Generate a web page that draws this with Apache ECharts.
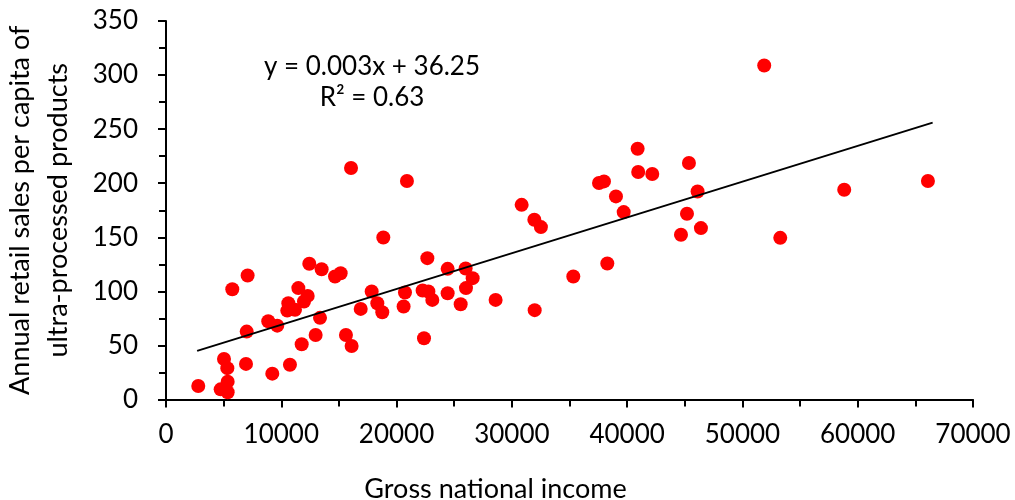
<!DOCTYPE html>
<html>
<head>
<meta charset="utf-8">
<script src="https://cdn.jsdelivr.net/npm/echarts@6/dist/echarts.min.js"></script>
<style>
  html, body { margin: 0; padding: 0; background: #fff; }
  #chart { width: 1015px; height: 500px; }
</style>
</head>
<body>
<div id="chart"></div>
<script>
// 国民总收入 (x) 与 人均超加工食品零售额 (y)
const incomeX = [
  2800, 5030, 5320, 4740, 5350, 5350, 5750, 7080, 7000, 6940,
  9220, 8870, 9650, 10750, 11770, 12980, 13360, 10610, 10520, 11190,
  11480, 11970, 12290, 12430, 13500, 14660, 15150, 15610, 16100, 16050,
  20900, 18850, 17840, 16890, 18330, 18760, 20610, 20730, 22380, 22670,
  22260, 22760, 23100, 24430, 24430, 25560, 25990, 26600, 26020, 28590,
  30850, 31950, 32520, 31980, 35330, 38280, 37560, 37990, 39030, 39700,
  40910, 40960, 42180, 45360, 46110, 45190, 44670, 46400, 51890, 58830,
  66090, 53280
]
const salesY = [
  12.5, 37.5, 29, 9.4, 16.5, 6.7, 102, 114.6, 62.8, 32.9,
  23.9, 72.4, 68.3, 32.2, 51.1, 59.7, 75.5, 89, 82.2, 82.9,
  103, 90.6, 95.8, 125.5, 120.5, 113.7, 116.8, 59.7, 49.5, 214,
  202, 149.8, 99.8, 83.8, 89, 80.7, 86, 98.9, 56.6, 130.7,
  100.8, 99.8, 92.1, 120.8, 98.3, 88.1, 121.1, 112.2, 103, 92.1,
  180, 166.2, 159.4, 82.6, 113.7, 125.7, 200.2, 201.7, 187.8, 173.3,
  231.9, 210.4, 208.5, 218.7, 192.4, 171.8, 152.3, 158.5, 308.8, 194,
  202, 149.5
]
// 趋势线两端点
const trendX = [2700, 66500]
const trendY = [45, 256]

const yTicks = { min: 0, max: 350, interval: 50 }
const xTicks = { min: 0, max: 70000, interval: 10000 }

const FONT = 'Lato'

const chart = echarts.init(document.getElementById('chart'))

const axisCommon = {
  axisLine: { show: true, lineStyle: { color: '#000', width: 2 } },
  axisTick: { show: true, inside: false, length: 8, lineStyle: { color: '#000', width: 2 } },
  minorTick: { show: true, splitNumber: 2, length: 7, lineStyle: { color: '#000', width: 2 } },
  splitLine: { show: false },
  axisLabel: { color: '#000', fontSize: 26, fontFamily: FONT, formatter: (v) => String(v) },
  nameTextStyle: { color: '#000', fontSize: 27, fontFamily: FONT }
}

chart.setOption({
  animation: false,
  backgroundColor: '#fff',
  grid: { left: 166, right: 42, top: 21, bottom: 100.5, containLabel: false, outerBoundsMode: 'none' },
  xAxis: Object.assign({}, axisCommon, {
    type: 'value',
    min: xTicks.min,
    max: xTicks.max,
    interval: xTicks.interval,
    name: 'Gross national income',
    nameLocation: 'middle',
    nameGap: 76,
    // 标题在参考图里偏左
    nameTextStyle: Object.assign({}, axisCommon.nameTextStyle, { padding: [0, 148, 0, 0] }),
    axisLabel: Object.assign({}, axisCommon.axisLabel, { margin: 22 })
  }),
  yAxis: Object.assign({}, axisCommon, {
    type: 'value',
    min: yTicks.min,
    max: yTicks.max,
    interval: yTicks.interval,
    name: 'Annual retail sales per capita of\nultra-processed products',
    nameLocation: 'middle',
    nameGap: 89,
    nameTextStyle: Object.assign({}, axisCommon.nameTextStyle, { lineHeight: 38 }),
    axisLabel: Object.assign({}, axisCommon.axisLabel, { margin: 28 })
  }),
  graphic: [
    {
      type: 'text', x: 372, y: 67,
      style: { text: 'y = 0.003x + 36.25', fontSize: 26, fontFamily: FONT, fill: '#000', align: 'center', verticalAlign: 'middle' }
    },
    {
      type: 'text', x: 372, y: 98,
      style: { text: 'R² = 0.63', fontSize: 26, fontFamily: FONT, fill: '#000', align: 'center', verticalAlign: 'middle' }
    }
  ],
  series: [
    {
      type: 'line',
      data: trendX.map((x, i) => [x, trendY[i]]),
      showSymbol: false,
      symbol: 'none',
      lineStyle: { color: '#000', width: 2 },
      z: 3
    },
    {
      type: 'scatter',
      data: incomeX.map((x, i) => [x, salesY[i]]),
      symbol: 'circle',
      symbolSize: 14,
      itemStyle: { color: '#ff0000', opacity: 1 },
      z: 2
    }
  ]
})

window.addEventListener('resize', () => {
  chart.resize()
})
</script>
</body>
</html>
